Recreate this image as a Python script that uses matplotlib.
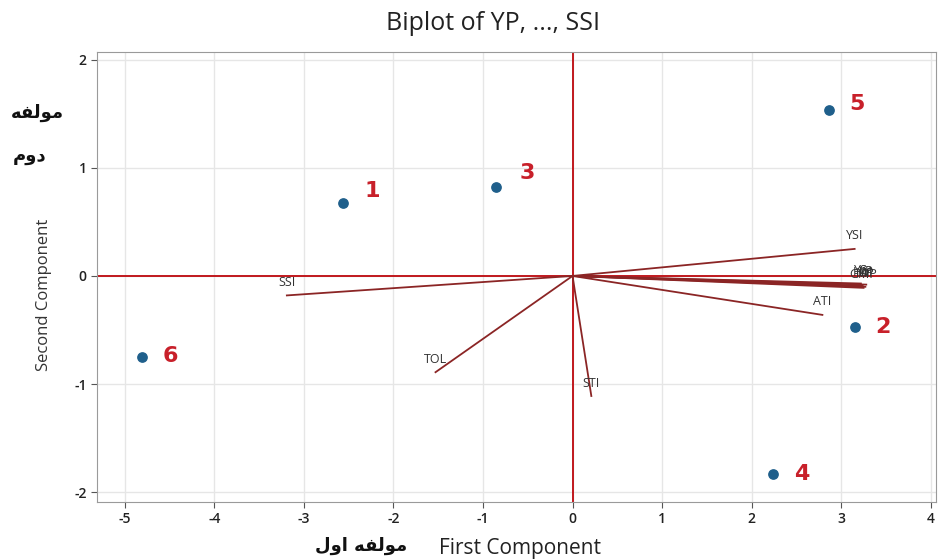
import matplotlib
matplotlib.use('Agg')
import matplotlib.pyplot as plt

# scores of the six genotypes
pt_labels = ['1', '2', '3', '4', '5', '6']
pt_x = [-2.56, 3.15, -0.86, 2.24, 2.86, -4.81]
pt_y = [0.67, -0.47, 0.82, -1.83, 1.53, -0.75]

# loading vectors of the indices
vec_names = ['YSI', 'YP', 'YS', 'MP', 'GMP', 'HM', 'ATI', 'SSI', 'TOL', 'STI']
vec_x = [3.15, 3.28, 3.22, 3.27, 3.25, 3.24, 2.79, -3.19, -1.53, 0.21]
vec_y = [0.25, -0.08, -0.07, -0.10, -0.11, -0.09, -0.36, -0.18, -0.89, -1.11]

# Arabic labels, pre-shaped (presentation forms, visual order)
fa_second_1 = '\uFEEA\uFED4\uFEDF\uFEEE\uFEE3'
fa_second_2 = '\uFEE1\uFEED\uFEA9'
fa_first = '\uFEDD\uFEED\uFE8D \uFEEA\uFED4\uFEDF\uFEEE\uFEE3'

plt.rcParams['font.family'] = ['Open Sans', 'DejaVu Sans']
plt.rcParams['axes.unicode_minus'] = False

fig = plt.figure(figsize=(9.38, 5.6), dpi=100)
ax = fig.add_axes([0.1034, 0.1036, 0.8946, 0.8034])

ax.set_xlim(-5.31, 4.06)
ax.set_ylim(-2.09, 2.07)
ax.set_xticks(range(-5, 5))
ax.set_yticks(range(-2, 3))
ax.grid(True, color='#e6e6e6', linewidth=1)
ax.set_axisbelow(True)
for s in ax.spines.values():
    s.set_color('#9a9a9a')
ax.tick_params(colors='#555555', labelcolor='#222222', labelsize=10, length=4)
for t in ax.get_xticklabels() + ax.get_yticklabels():
    t.set_fontweight('semibold')

ax.axhline(0, color='#c0181d', linewidth=1.4, zorder=2)
ax.axvline(0, color='#c0181d', linewidth=1.4, zorder=2)

for name, vx, vy in zip(vec_names, vec_x, vec_y):
    ax.plot([0, vx], [0, vy], color='#8b2525', linewidth=1.3, zorder=3)
    ax.text(vx, vy + 0.06, name, fontsize=9, color='#333333', ha='center', va='bottom', zorder=4)

# offsets (points) of the genotype numbers from their markers
num_dx = [15, 15, 17, 15, 15, 15]
num_dy = [9, 0, 10, 0, 5, 1]

ax.scatter(pt_x, pt_y, s=45, color='#1f5f8b', zorder=5)
for lab, x, y, dx, dy in zip(pt_labels, pt_x, pt_y, num_dx, num_dy):
    ax.annotate(lab, (x, y), xytext=(dx, dy), textcoords='offset points', fontsize=16,
                fontweight='bold', color='#c8202a', va='center', family=['DejaVu Sans'])

fig.text(0.526, 0.958, 'Biplot of YP, ..., SSI', fontsize=18, color='#222222',
         ha='center', va='center')
fig.text(0.047, 0.473, 'Second Component', fontsize=12, color='#333333',
         rotation=90, ha='center', va='center')

fig.text(0.554, 0.021, 'First Component', fontsize=15, color='#222222', ha='center', va='center')
fig.text(0.385, 0.025, fa_first, fontsize=13, fontweight='bold', color='#111111', ha='center',
         va='center', family=['DejaVu Sans'])
fig.text(0.04, 0.79, fa_second_1, fontsize=13, fontweight='bold', color='#111111', ha='center',
         family=['DejaVu Sans'])
fig.text(0.032, 0.712, fa_second_2, fontsize=13, fontweight='bold', color='#111111', ha='center',
         family=['DejaVu Sans'])

plt.savefig('out.png', dpi=100)
